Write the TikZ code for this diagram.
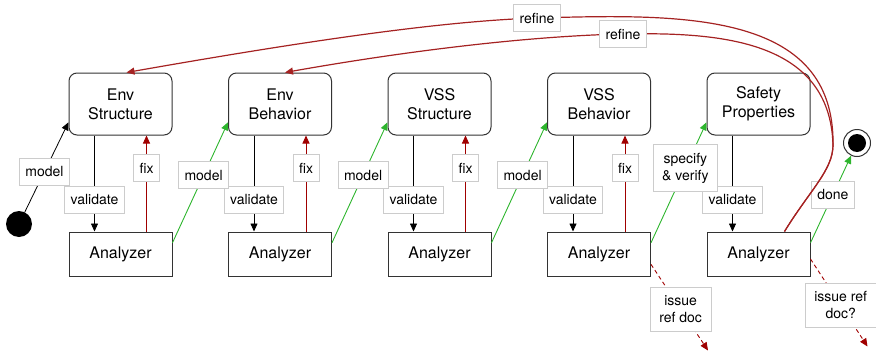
\documentclass[tikz,border=0pt]{standalone}
\usepackage{fontspec}
\setmainfont{TeX Gyre Heros}
\usetikzlibrary{arrows.meta,calc}
\definecolor{gr}{HTML}{2DB52D}
\definecolor{rd}{HTML}{A00000}
\definecolor{rf}{HTML}{A52222}
\definecolor{bx}{HTML}{333333}
\definecolor{lb}{HTML}{CCCCCC}
\begin{document}
\begin{tikzpicture}[x=1pt,y=-1pt,
 box/.style={draw=bx, line width=1pt, rounded corners=8pt, minimum width=103pt, minimum height=62pt, align=center, font=\fontsize{16}{19}\selectfont},
 anbox/.style={draw=bx, line width=1pt, minimum width=103pt, minimum height=44pt, font=\fontsize{16}{19}\selectfont},
 lbl/.style={draw=lb, fill=white, solid, line width=0.8pt, align=center, inner xsep=6pt, inner ysep=7pt, minimum height=27pt, font=\fontsize{14}{17}\selectfont, text=black},
 mlbl/.style={lbl, inner xsep=9pt, inner ysep=8.5pt},
 tip/.style={-{Triangle[length=8pt,width=7pt]}},
 blk/.style={tip, draw=black, line width=0.8pt},
 fixc/.style={tip, draw=rd, line width=0.9pt},
 modc/.style={tip, draw=gr, line width=0.9pt},
 refc/.style={tip, draw=rf, line width=1.2pt},
 issc/.style={tip, draw=rd, line width=0.9pt, dash pattern=on 4pt off 3pt}
]
\useasboundingbox (0,0) rectangle (876,351);
\node[box] (t1) at (120.5,104) {Env\\Structure};
\node[box] (t2) at (280,104) {Env\\Behavior};
\node[box] (t3) at (439.5,104) {VSS\\Structure};
\node[box] (t4) at (599,104) {VSS\\Behavior};
\node[box] (t5) at (758.5,104) {Safety\\Properties};
\node[anbox] (a1) at (120.5,254) {Analyzer};
\node[anbox] (a2) at (280,254) {Analyzer};
\node[anbox] (a3) at (439.5,254) {Analyzer};
\node[anbox] (a4) at (599,254) {Analyzer};
\node[anbox] (a5) at (758.5,254) {Analyzer};
\node[circle, fill=black, minimum size=26pt, inner sep=0pt] (init) at (19,224) {};
\node[circle, draw=bx, line width=1pt, fill=white, minimum size=27pt, inner sep=0pt] (fin) at (857,143) {};
\fill[black] (fin.center) circle (9pt);
% validate
\foreach \i in {1,...,5}{
  \draw[blk] ($(t\i.south west)!0.25!(t\i.south east)$) -- node[lbl,pos=0.67]{validate} ($(a\i.north west)!0.25!(a\i.north east)$);
}
% fix
\foreach \i in {1,...,4}{
  \draw[fixc] ($(a\i.north west)!0.75!(a\i.north east)$) -- node[lbl,pos=0.66]{fix} ($(t\i.south west)!0.75!(t\i.south east)$);
}
% model
\draw[blk] (init) -- node[lbl,pos=0.45]{model} ($(t1.north west)!0.79!(t1.south west)$);
\foreach \i/\j in {1/2,2/3,3/4}{
  \draw[modc] ($(a\i.north east)!0.25!(a\i.south east)$) -- node[lbl,pos=0.56]{model} ($(t\j.north west)!0.79!(t\j.south west)$);
}
\draw[modc] ($(a4.north east)!0.25!(a4.south east)$) -- node[mlbl,pos=0.62]{specify\\\& verify} ($(t5.north west)!0.79!(t5.south west)$);
\draw[modc] ($(a5.north east)!0.25!(a5.south east)$) -- node[lbl,pos=0.55]{done} (fin);
% issue
\coordinate (e4) at ($(a4.south east)+(57,74)$);
\coordinate (e5) at ($(a5.south east)+(57,70)$);
\draw[issc] ($(a4.north east)!0.73!(a4.south east)$) -- node[mlbl,pos=0.52]{issue\\ref doc} (e4);
\draw[issc] ($(a5.north east)!0.61!(a5.south east)$) -- node[mlbl,pos=0.53]{issue ref\\doc?} (e5);
% refine
\coordinate (s) at ($(a5.north west)!0.75!(a5.north east)$);
\draw[refc] (s) .. controls (810,190) and (833,170) .. (833,145)
  .. controls (835,10) and (680,14) .. (537,18) node[lbl]{refine}
  .. controls (440,21) and (300,42) .. ($(t1.north)+(6,0)$);
\draw[refc] (s) .. controls (810,190) and (833,170) .. (833,145)
  .. controls (830,40) and (720,32) .. (623,34) node[lbl]{refine}
  .. controls (526,36) and (400,52) .. ($(t2.north)+(5,0)$);
\end{tikzpicture}
\end{document}
